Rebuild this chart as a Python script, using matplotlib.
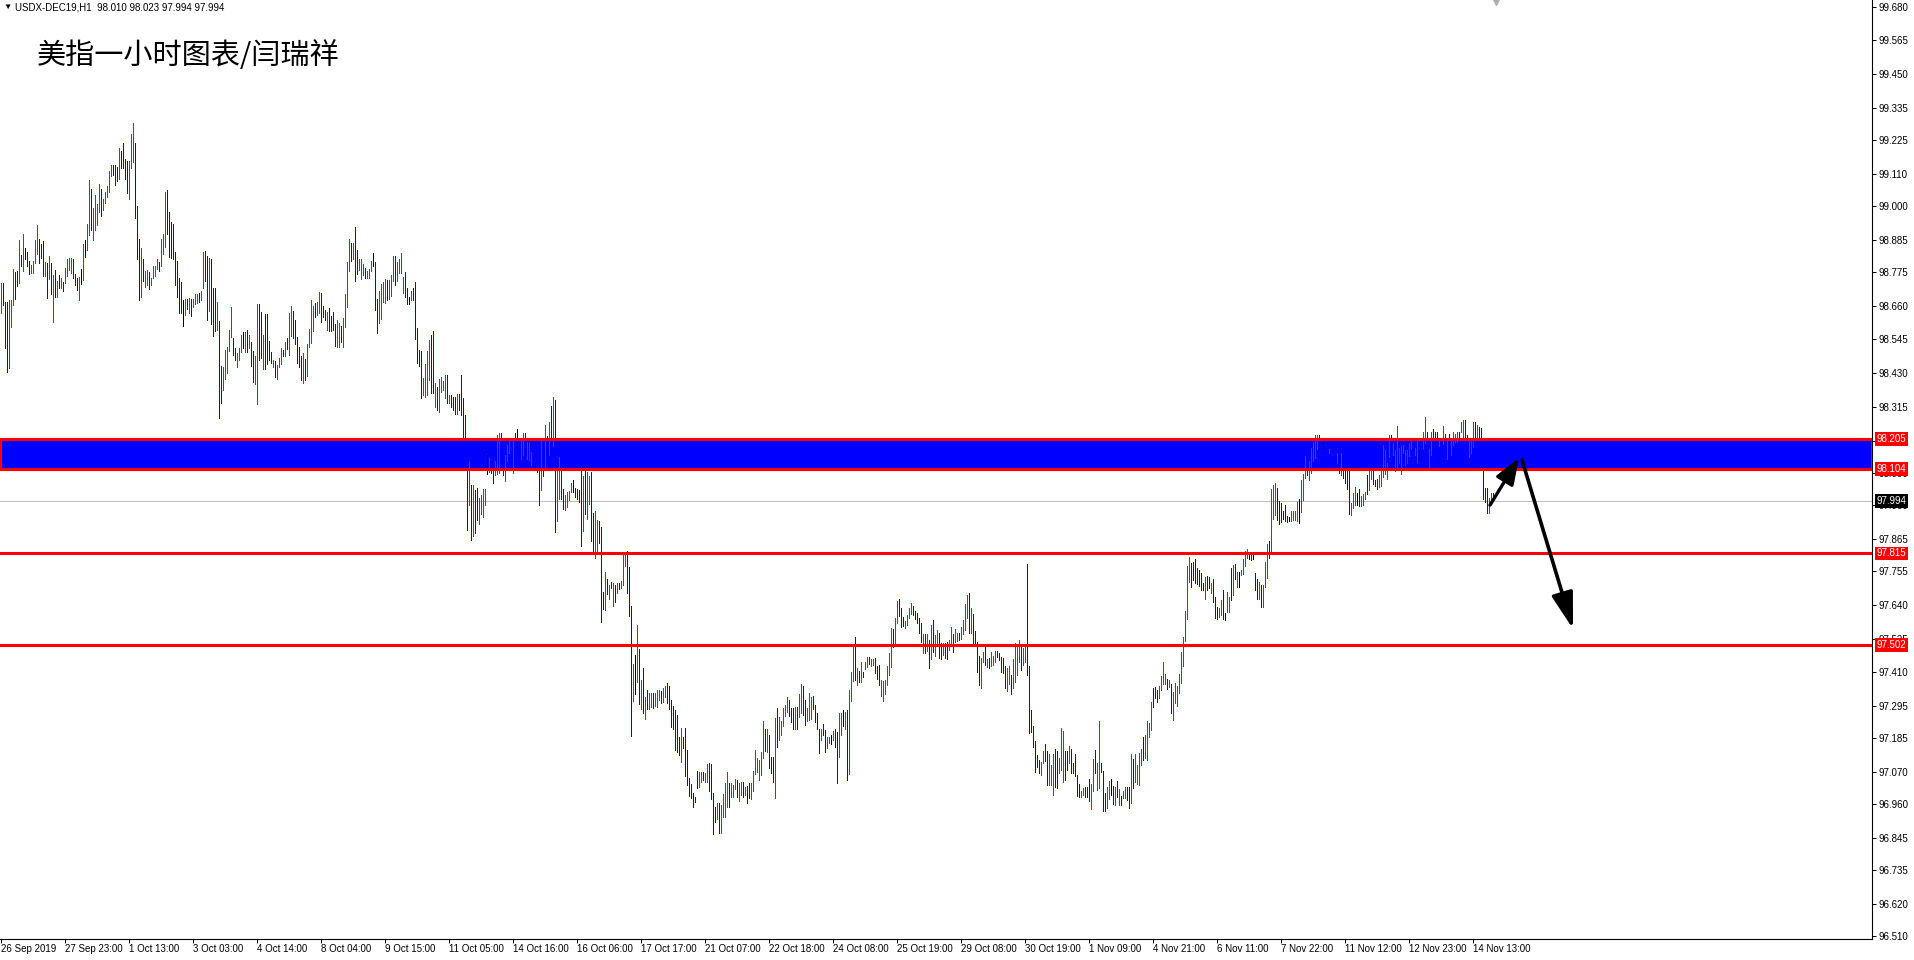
import numpy as np
import matplotlib.pyplot as plt
from matplotlib.transforms import blended_transform_factory

plt.rcParams['font.family'] = ['Liberation Sans', 'DejaVu Sans']

# ---- data (USDX-DEC19, H1) ----
highs = [
    98.739, 98.739, 98.674, 98.674, 98.680, 98.680, 98.786, 98.776, 98.779, 98.886,
    98.833, 98.905, 98.858, 98.844, 98.813, 98.800, 98.813, 98.886, 98.936, 98.888,
    98.871, 98.881, 98.809, 98.806, 98.831, 98.806, 98.765, 98.783, 98.745, 98.765,
    98.756, 98.742, 98.790, 98.820, 98.823, 98.823, 98.820, 98.770, 98.754, 98.759,
    98.786, 98.871, 98.885, 98.939, 99.089, 99.058, 98.995, 99.038, 99.006, 99.074,
    99.058, 99.024, 99.048, 99.069, 99.120, 99.140, 99.140, 99.140, 99.135, 99.199,
    99.188, 99.215, 99.161, 99.154, 99.154, 99.247, 99.284, 99.215, 99.000, 98.888,
    98.858, 98.820, 98.778, 98.782, 98.775, 98.756, 98.796, 98.796, 98.820, 98.811,
    98.887, 98.905, 99.049, 99.056, 98.981, 98.946, 98.940, 98.842, 98.813, 98.756,
    98.740, 98.678, 98.683, 98.683, 98.688, 98.683, 98.683, 98.701, 98.701, 98.705,
    98.711, 98.845, 98.847, 98.831, 98.822, 98.820, 98.722, 98.722, 98.674, 98.609,
    98.456, 98.452, 98.510, 98.521, 98.579, 98.657, 98.549, 98.517, 98.498, 98.517,
    98.560, 98.572, 98.572, 98.579, 98.560, 98.535, 98.507, 98.490, 98.667, 98.667,
    98.640, 98.560, 98.631, 98.631, 98.541, 98.501, 98.476, 98.472, 98.458, 98.483,
    98.517, 98.510, 98.535, 98.551, 98.637, 98.659, 98.642, 98.612, 98.555, 98.520,
    98.489, 98.500, 98.479, 98.530, 98.582, 98.680, 98.660, 98.671, 98.674, 98.707,
    98.705, 98.660, 98.646, 98.639, 98.652, 98.626, 98.639, 98.598, 98.612, 98.601,
    98.591, 98.618, 98.701, 98.810, 98.888, 98.875, 98.875, 98.929, 98.851, 98.819,
    98.819, 98.802, 98.788, 98.777, 98.785, 98.813, 98.840, 98.810, 98.682, 98.711,
    98.735, 98.742, 98.753, 98.748, 98.748, 98.765, 98.830, 98.830, 98.811, 98.821,
    98.840, 98.759, 98.776, 98.720, 98.691, 98.709, 98.720, 98.742, 98.585, 98.510,
    98.506, 98.414, 98.461, 98.506, 98.544, 98.561, 98.574, 98.396, 98.384, 98.411,
    98.416, 98.402, 98.424, 98.424, 98.356, 98.356, 98.350, 98.350, 98.360, 98.360,
    98.424, 98.345, 98.288, 98.112, 98.131, 98.047, 98.047, 98.030, 98.038, 98.004,
    98.013, 98.034, 98.034, 98.151, 98.142, 98.106, 98.114, 98.132, 98.220, 98.225,
    98.225, 98.109, 98.151, 98.184, 98.200, 98.200, 98.200, 98.225, 98.239, 98.208,
    98.205, 98.225, 98.225, 98.194, 98.194, 98.160, 98.129, 98.123, 98.106, 98.106,
    98.200, 98.106, 98.254, 98.216, 98.264, 98.319, 98.348, 98.339, 98.106, 98.143,
    98.100, 98.034, 98.015, 98.024, 98.029, 98.055, 98.066, 98.040, 98.034, 98.030,
    98.106, 98.080, 98.106, 98.092, 98.078, 98.092, 97.952, 97.960, 97.930, 97.925,
    97.906, 97.685, 97.753, 97.728, 97.707, 97.719, 97.716, 97.707, 97.713, 97.715,
    97.721, 97.815, 97.821, 97.823, 97.770, 97.636, 97.438, 97.469, 97.571, 97.489,
    97.383, 97.425, 97.326, 97.349, 97.338, 97.338, 97.340, 97.340, 97.349, 97.349,
    97.347, 97.357, 97.363, 97.373, 97.364, 97.315, 97.295, 97.281, 97.264, 97.188,
    97.221, 97.190, 97.221, 97.144, 97.048, 97.029, 96.999, 96.985, 97.073, 97.071,
    97.068, 97.068, 97.067, 97.096, 97.099, 97.097, 96.999, 96.951, 96.963, 96.963,
    96.957, 96.993, 97.031, 97.071, 97.031, 97.031, 97.027, 97.046, 97.044, 97.031,
    97.036, 97.034, 97.019, 97.022, 97.031, 97.031, 97.074, 97.146, 97.116, 97.110,
    97.139, 97.243, 97.218, 97.218, 97.196, 97.122, 97.122, 97.255, 97.289, 97.258,
    97.243, 97.287, 97.298, 97.326, 97.315, 97.289, 97.289, 97.292, 97.290, 97.336,
    97.370, 97.364, 97.315, 97.287, 97.340, 97.326, 97.330, 97.298, 97.272, 97.218,
    97.218, 97.235, 97.213, 97.188, 97.190, 97.196, 97.210, 97.218, 97.207, 97.272,
    97.272, 97.281, 97.275, 97.281, 97.351, 97.412, 97.503, 97.531, 97.423, 97.414,
    97.446, 97.412, 97.446, 97.461, 97.463, 97.454, 97.455, 97.459, 97.432, 97.434,
    97.383, 97.380, 97.383, 97.432, 97.474, 97.562, 97.556, 97.596, 97.653, 97.660,
    97.628, 97.599, 97.586, 97.605, 97.628, 97.645, 97.636, 97.619, 97.613, 97.594,
    97.577, 97.539, 97.539, 97.539, 97.520, 97.571, 97.588, 97.537, 97.554, 97.545,
    97.509, 97.509, 97.509, 97.514, 97.520, 97.563, 97.539, 97.556, 97.545, 97.543,
    97.563, 97.588, 97.642, 97.673, 97.679, 97.628, 97.609, 97.552, 97.514, 97.465,
    97.457, 97.480, 97.497, 97.454, 97.457, 97.478, 97.465, 97.482, 97.482, 97.474,
    97.463, 97.457, 97.431, 97.423, 97.431, 97.401, 97.454, 97.509, 97.499, 97.520,
    97.503, 97.491, 97.503, 97.779, 97.431, 97.281, 97.227, 97.175, 97.128, 97.111,
    97.105, 97.142, 97.165, 97.141, 97.130, 97.094, 97.131, 97.148, 97.142, 97.116,
    97.219, 97.210, 97.142, 97.141, 97.158, 97.147, 97.101, 97.131, 97.059, 97.028,
    97.006, 97.014, 97.017, 97.020, 97.045, 97.029, 97.113, 97.145, 97.101, 97.244,
    97.099, 97.073, 96.999, 97.020, 97.040, 97.046, 97.022, 97.020, 97.040, 97.011,
    96.988, 97.006, 97.020, 97.020, 97.020, 97.131, 97.114, 97.131, 97.094, 97.133,
    97.148, 97.190, 97.196, 97.244, 97.238, 97.307, 97.357, 97.361, 97.349, 97.364,
    97.397, 97.444, 97.404, 97.386, 97.383, 97.370, 97.341, 97.372, 97.364, 97.404,
    97.478, 97.531, 97.619, 97.772, 97.802, 97.781, 97.787, 97.796, 97.764, 97.760,
    97.750, 97.716, 97.736, 97.739, 97.736, 97.716, 97.727, 97.668, 97.634, 97.628,
    97.657, 97.691, 97.611, 97.682, 97.668, 97.767, 97.776, 97.778, 97.751, 97.751,
    97.757, 97.797, 97.824, 97.831, 97.816, 97.813, 97.813, 97.748, 97.729, 97.719,
    97.706, 97.706, 97.785, 97.848, 97.856, 98.035, 98.049, 98.057, 98.038, 97.994,
    97.987, 97.960, 97.981, 97.943, 97.941, 97.960, 97.960, 97.960, 97.992, 98.000,
    98.066, 98.087, 98.146, 98.131, 98.129, 98.176, 98.197, 98.220, 98.220, 98.220,
    98.205, 98.197, 98.197, 98.197, 98.171, 98.171, 98.168, 98.151, 98.157, 98.106,
    98.157, 98.106, 98.106, 98.106, 98.106, 97.987, 98.021, 98.041, 98.021, 98.034,
    98.012, 98.018, 98.026, 98.083, 98.103, 98.106, 98.106, 98.066, 98.068, 98.083,
    98.106, 98.185, 98.168, 98.123, 98.220, 98.220, 98.191, 98.168, 98.250, 98.176,
    98.180, 98.185, 98.168, 98.168, 98.193, 98.205, 98.197, 98.174, 98.205, 98.166,
    98.166, 98.228, 98.281, 98.228, 98.171, 98.228, 98.239, 98.228, 98.231, 98.205,
    98.205, 98.250, 98.222, 98.205, 98.222, 98.205, 98.228, 98.222, 98.231, 98.228,
    98.263, 98.269, 98.271, 98.220, 98.205, 98.203, 98.262, 98.264, 98.254, 98.248,
    98.242, 98.106, 98.038, 98.038, 98.004, 98.023, 98.023,
]

lows = [
    98.637, 98.664, 98.515, 98.435, 98.447, 98.589, 98.664, 98.683, 98.729, 98.739,
    98.794, 98.780, 98.819, 98.794, 98.767, 98.771, 98.773, 98.805, 98.837, 98.805,
    98.824, 98.763, 98.763, 98.688, 98.751, 98.699, 98.606, 98.691, 98.691, 98.722,
    98.722, 98.711, 98.739, 98.763, 98.782, 98.771, 98.756, 98.731, 98.714, 98.680,
    98.733, 98.747, 98.828, 98.851, 98.901, 98.919, 98.885, 98.919, 98.936, 98.981,
    98.967, 98.987, 99.010, 99.032, 99.049, 99.103, 99.106, 99.072, 99.087, 99.093,
    99.131, 99.131, 99.093, 99.046, 99.024, 99.131, 99.152, 98.961, 98.821, 98.680,
    98.691, 98.745, 98.725, 98.731, 98.717, 98.731, 98.754, 98.763, 98.786, 98.780,
    98.794, 98.837, 98.859, 98.905, 98.828, 98.823, 98.820, 98.731, 98.691, 98.634,
    98.637, 98.591, 98.629, 98.649, 98.634, 98.626, 98.657, 98.666, 98.668, 98.672,
    98.680, 98.720, 98.746, 98.612, 98.643, 98.597, 98.558, 98.575, 98.577, 98.278,
    98.327, 98.371, 98.409, 98.432, 98.507, 98.553, 98.492, 98.475, 98.452, 98.475,
    98.501, 98.517, 98.501, 98.501, 98.515, 98.456, 98.401, 98.392, 98.324, 98.475,
    98.483, 98.443, 98.443, 98.461, 98.475, 98.466, 98.452, 98.418, 98.409, 98.452,
    98.461, 98.487, 98.490, 98.511, 98.492, 98.558, 98.549, 98.529, 98.464, 98.450,
    98.407, 98.398, 98.407, 98.419, 98.518, 98.532, 98.574, 98.620, 98.629, 98.635,
    98.606, 98.621, 98.612, 98.576, 98.574, 98.574, 98.576, 98.524, 98.518, 98.518,
    98.536, 98.520, 98.586, 98.657, 98.777, 98.813, 98.819, 98.745, 98.768, 98.782,
    98.752, 98.765, 98.756, 98.756, 98.756, 98.777, 98.797, 98.644, 98.568, 98.602,
    98.615, 98.672, 98.670, 98.678, 98.684, 98.694, 98.746, 98.731, 98.744, 98.773,
    98.773, 98.702, 98.690, 98.665, 98.666, 98.679, 98.680, 98.548, 98.465, 98.453,
    98.344, 98.354, 98.348, 98.354, 98.407, 98.363, 98.364, 98.313, 98.303, 98.296,
    98.365, 98.371, 98.344, 98.328, 98.328, 98.313, 98.305, 98.290, 98.290, 98.305,
    98.286, 98.208, 98.106, 97.896, 97.981, 97.861, 97.873, 97.884, 97.930, 97.916,
    97.950, 97.938, 97.981, 98.087, 98.092, 98.089, 98.055, 98.083, 98.087, 98.089,
    98.106, 98.083, 98.063, 98.131, 98.157, 98.151, 98.091, 98.151, 98.151, 98.149,
    98.138, 98.151, 98.151, 98.138, 98.134, 98.117, 98.106, 98.106, 98.092, 97.979,
    98.032, 98.078, 98.106, 98.106, 98.151, 98.183, 98.183, 97.890, 97.926, 98.001,
    98.001, 97.967, 97.962, 97.973, 97.998, 98.026, 98.026, 98.009, 98.001, 97.989,
    97.842, 97.892, 97.950, 97.933, 97.984, 97.858, 97.822, 97.801, 97.820, 97.850,
    97.582, 97.624, 97.622, 97.677, 97.660, 97.696, 97.637, 97.650, 97.681, 97.693,
    97.696, 97.707, 97.773, 97.681, 97.603, 97.193, 97.313, 97.337, 97.375, 97.303,
    97.285, 97.272, 97.250, 97.284, 97.284, 97.292, 97.288, 97.295, 97.292, 97.315,
    97.304, 97.309, 97.326, 97.306, 97.283, 97.222, 97.218, 97.144, 97.137, 97.127,
    97.105, 97.150, 97.057, 97.025, 96.988, 96.980, 96.949, 96.966, 97.014, 97.019,
    97.036, 97.042, 97.034, 97.036, 97.005, 96.977, 96.857, 96.900, 96.909, 96.863,
    96.863, 96.915, 96.917, 96.951, 96.951, 96.983, 96.983, 97.010, 96.985, 96.972,
    96.991, 96.985, 96.991, 96.963, 96.980, 96.977, 97.006, 97.063, 97.068, 97.042,
    97.059, 97.116, 97.142, 97.139, 97.082, 97.065, 97.034, 96.982, 97.156, 97.179,
    97.196, 97.228, 97.260, 97.275, 97.262, 97.241, 97.218, 97.218, 97.218, 97.258,
    97.272, 97.264, 97.230, 97.243, 97.247, 97.249, 97.283, 97.241, 97.218, 97.133,
    97.179, 97.196, 97.139, 97.150, 97.167, 97.165, 97.179, 97.156, 97.033, 97.122,
    97.196, 97.226, 97.218, 97.044, 97.063, 97.312, 97.380, 97.383, 97.368, 97.378,
    97.378, 97.395, 97.421, 97.429, 97.437, 97.432, 97.436, 97.406, 97.387, 97.366,
    97.329, 97.313, 97.336, 97.368, 97.400, 97.429, 97.495, 97.503, 97.577, 97.603,
    97.563, 97.568, 97.560, 97.571, 97.594, 97.609, 97.605, 97.590, 97.577, 97.543,
    97.514, 97.477, 97.477, 97.484, 97.423, 97.454, 97.480, 97.465, 97.503, 97.457,
    97.454, 97.469, 97.457, 97.454, 97.486, 97.509, 97.480, 97.514, 97.518, 97.520,
    97.524, 97.539, 97.554, 97.594, 97.543, 97.545, 97.503, 97.503, 97.412, 97.366,
    97.357, 97.446, 97.435, 97.429, 97.423, 97.431, 97.435, 97.446, 97.463, 97.452,
    97.410, 97.406, 97.357, 97.347, 97.370, 97.336, 97.355, 97.378, 97.401, 97.446,
    97.418, 97.435, 97.446, 97.401, 97.204, 97.207, 97.154, 97.071, 97.086, 97.065,
    97.059, 97.101, 97.108, 97.025, 97.025, 97.025, 96.991, 97.020, 97.014, 97.065,
    97.077, 97.037, 97.042, 97.077, 97.101, 97.065, 97.065, 97.056, 96.989, 96.986,
    96.983, 96.991, 96.986, 96.986, 96.972, 96.942, 97.006, 97.065, 97.008, 97.014,
    97.071, 96.938, 96.938, 96.948, 96.976, 96.991, 96.959, 96.957, 96.986, 96.957,
    96.957, 96.982, 96.982, 96.974, 96.948, 96.963, 97.014, 97.037, 97.028, 97.025,
    97.094, 97.111, 97.116, 97.111, 97.190, 97.213, 97.293, 97.321, 97.307, 97.321,
    97.349, 97.369, 97.370, 97.353, 97.358, 97.270, 97.247, 97.304, 97.296, 97.338,
    97.374, 97.431, 97.518, 97.592, 97.719, 97.702, 97.725, 97.715, 97.710, 97.705,
    97.691, 97.689, 97.660, 97.689, 97.697, 97.680, 97.649, 97.594, 97.591, 97.598,
    97.606, 97.591, 97.589, 97.615, 97.617, 97.657, 97.672, 97.727, 97.702, 97.702,
    97.740, 97.746, 97.771, 97.799, 97.796, 97.793, 97.796, 97.689, 97.660, 97.660,
    97.632, 97.634, 97.700, 97.731, 97.801, 97.816, 97.933, 97.947, 97.930, 97.916,
    97.924, 97.933, 97.927, 97.924, 97.926, 97.927, 97.930, 97.930, 97.926, 97.918,
    97.958, 97.998, 98.072, 98.083, 98.066, 98.091, 98.131, 98.140, 98.172, 98.203,
    98.185, 98.172, 98.157, 98.159, 98.159, 98.157, 98.148, 98.129, 98.123, 98.091,
    98.083, 98.072, 98.055, 98.035, 97.950, 97.947, 97.969, 97.981, 97.981, 97.977,
    97.977, 97.981, 98.000, 98.018, 98.030, 98.070, 98.052, 98.046, 98.034, 98.041,
    98.046, 98.075, 98.087, 98.070, 98.143, 98.208, 98.151, 98.098, 98.106, 98.123,
    98.087, 98.157, 98.117, 98.123, 98.146, 98.171, 98.174, 98.151, 98.123, 98.138,
    98.129, 98.174, 98.193, 98.203, 98.106, 98.151, 98.208, 98.208, 98.212, 98.180,
    98.131, 98.188, 98.168, 98.137, 98.191, 98.151, 98.185, 98.197, 98.197, 98.205,
    98.228, 98.205, 98.208, 98.191, 98.143, 98.159, 98.178, 98.200, 98.205, 98.200,
    98.205, 98.001, 97.992, 97.952, 97.952, 97.984, 97.994,
]

# u = closed above open, d = closed below open, f = unchanged
moves = (
    "uddduuuddu" "dufdduuuud" "ddudududud" "uduuuudddu" "fufuuduuuu"
    "duuuuudddu" "dddduuuddd" "uduuduuuud" "uuuddddddd" "dfududuuud"
    "uuddudddud" "duuuuudduu" "ufududduud" "dudddduduu" "ududuudddd"
    "duduuuuduu" "dddudddduu" "duuuududdu" "uuduuufddu" "uuuduuuduu"
    "uuddfudddd" "duuuuddudu" "uuududddud" "ddddududdu" "uuufudduuu"
    "dduuududfd" "uuduuudfdd" "ududududuu" "dduuuufddd" "duduudduud"
    "ddudududud" "uuudddufud" "ududuuduuu" "duuddddddd" "uddddddddu"
    "uduuddddud" "uuuuduuudu" "ududduuuuu" "uududddudu" "uuuudddudu"
    "udduuudddd" "udduufuddu" "ufuduuudud" "uduuduuddd" "uuuuuuduud"
    "dduuuudddd" "dudududuud" "dudduuduud" "uuuududddd" "uududuuudd"
    "ddduuduuuu" "duuddddddd" "uudduuuddu" "uudduddddd" "uuddduuduu"
    "ddduufdudu" "duudduduuu" "uduuuudddu" "uuududuuuu" "uuuuuddddd"
    "dduddudddu" "udfuududuf" "uuuufdfddu" "duuuduuudd" "ddddfuuuuf"
    "uuuduuuuud" "dfddudddud" "udddduuufd" "uuuduudddu" "uuuuuduuuu"
    "uuuuuuduuf" "fuuduudddu" "dududuuuud" "uudduuudud" "dddduud"
)

time_labels = ["26 Sep 2019", "27 Sep 23:00", "1 Oct 13:00", "3 Oct 03:00",
               "4 Oct 14:00", "8 Oct 04:00", "9 Oct 15:00", "11 Oct 05:00",
               "14 Oct 16:00", "16 Oct 06:00", "17 Oct 17:00", "21 Oct 07:00",
               "22 Oct 18:00", "24 Oct 08:00", "25 Oct 19:00", "29 Oct 08:00",
               "30 Oct 19:00", "1 Nov 09:00", "4 Nov 21:00", "6 Nov 11:00",
               "7 Nov 22:00", "11 Nov 12:00", "12 Nov 23:00", "14 Nov 13:00"]
bars_per_label = 32

price_ticks = [99.680, 99.565, 99.450, 99.335, 99.225, 99.110, 99.000, 98.885,
               98.775, 98.660, 98.545, 98.430, 98.315, 98.200, 98.090, 97.980,
               97.865, 97.755, 97.640, 97.525, 97.410, 97.295, 97.185, 97.070,
               96.960, 96.845, 96.735, 96.620, 96.510]

zone_top, zone_bottom = 98.205, 98.104
support_levels = [97.815, 97.502]
last_price = 97.994
rebound_target = 98.141
drop_target = 97.558

header = "USDX-DEC19,H1  98.010 98.023 97.994 97.994"
title = "美指一小时图表/闫瑞祥"

assert len(highs) == len(lows) == len(moves)

# ---- figure ----
fig = plt.figure(figsize=(19.15, 9.6), dpi=100)
ax = fig.add_axes([0, 21 / 960, 1872 / 1915, 939 / 960])

n = len(highs)
x = np.arange(n)
palette = {'u': '#ff0000', 'd': '#0000ff', 'f': '#000000'}
bar_colors = [palette[m] for m in moves]

# resistance zone, levels, current price
ax.axhspan(zone_bottom, zone_top, facecolor='#0000ff', edgecolor='#ff0000',
           linewidth=2.2, zorder=1)
ax.axhline(last_price, color='#c0c0c0', linewidth=0.8, zorder=1.5)

# one-pixel high/low bars
ax.vlines(x, lows, highs, colors=bar_colors, linewidth=0.72,
          antialiased=False, zorder=2)

for lvl in [zone_top, zone_bottom] + support_levels:
    ax.axhline(lvl, color='#ff0000', linewidth=2.2, zorder=3)

ax.set_xlim(-0.5, 935.5)
ax.set_ylim(96.500, 99.703)

# axes styling (terminal look)
for side in ['top', 'left']:
    ax.spines[side].set_visible(False)
for side in ['right', 'bottom']:
    ax.spines[side].set_color('black')
    ax.spines[side].set_linewidth(0.8)

ax.yaxis.tick_right()
ax.set_yticks(price_ticks)
ax.set_yticklabels([f'{v:.3f}' for v in price_ticks])
ax.tick_params(axis='y', direction='out', length=3, width=0.7, pad=1.5,
               labelsize=7, colors='black')

ax.set_xticks(np.arange(len(time_labels)) * bars_per_label)
ax.set_xticklabels(time_labels, ha='left')
ax.tick_params(axis='x', direction='out', length=3, width=0.7, pad=0.5,
               labelsize=7, colors='black')

# price labels on the scale
trans = blended_transform_factory(ax.transAxes, ax.transData)
for lvl, fc in [(zone_top, '#ff0000'), (zone_bottom, '#ff0000'),
                (last_price, '#000000'), (support_levels[0], '#ff0000'),
                (support_levels[1], '#ff0000')]:
    ax.text(1.0025, lvl, f'{lvl:.3f}', transform=trans, color='white',
            fontsize=7, va='center', ha='left', clip_on=False, zorder=10,
            bbox=dict(boxstyle='square,pad=0.2', fc=fc, ec='none'))

# arrows
ax.annotate('', xy=(n + 12, rebound_target), xytext=(n - 2.5, lows[-1] - 0.014),
            arrowprops=dict(arrowstyle='-|>,head_length=0.8,head_width=0.3',
                            mutation_scale=20, color='black', lw=2.4,
                            shrinkA=0, shrinkB=0), zorder=6)
ax.annotate('', xy=(n + 39, drop_target), xytext=(n + 13.5, rebound_target - 0.007),
            arrowprops=dict(arrowstyle='-|>,head_length=1.1,head_width=0.33',
                            mutation_scale=20, color='black', lw=2.6,
                            shrinkA=0, shrinkB=0), zorder=6)

# chart shift marker
ax.plot([1496 / 1872], [1 - 2 / 939], marker='v', markersize=5, color='#b0b0b0',
        transform=ax.transAxes, clip_on=False, zorder=5)

# header and title
fig.text(3 / 1915, 1 - 7 / 960, '\u25bc', fontsize=6, va='center', ha='left')
fig.text(15 / 1915, 1 - 7 / 960, header, fontsize=7, va='center', ha='left')
fig.text(37 / 1915, 1 - 56 / 960, title, fontsize=21, va='center', ha='left',
         family=['Noto Sans CJK SC', 'DejaVu Sans'], fontweight='light')

fig.savefig('out.png', dpi=100, facecolor='white')
